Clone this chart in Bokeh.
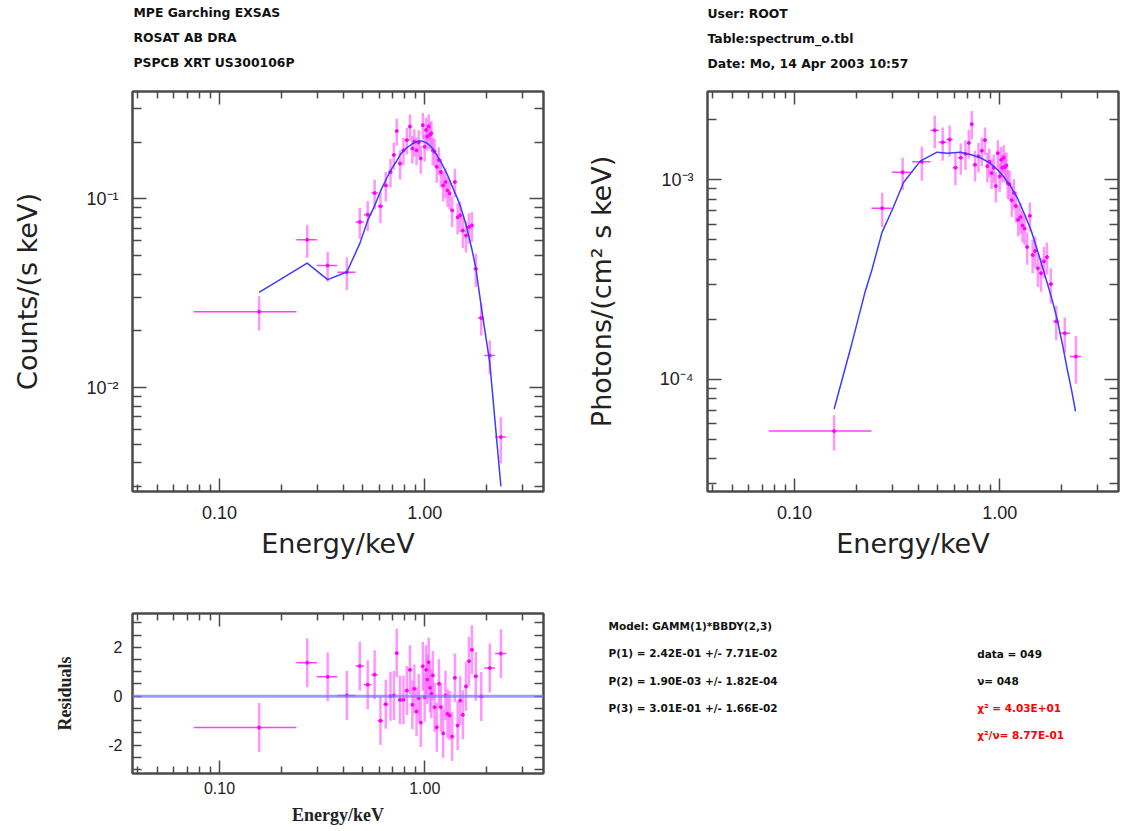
import numpy as np
from bokeh.plotting import figure
from bokeh.models import LogAxis, LinearAxis, FixedTicker, Label, Range1d, ColumnDataSource, Span
from bokeh.layouts import row, column
from bokeh.embed import file_html
from bokeh.resources import INLINE

# ---------------- data ----------------
bin_edges = [0.075, 0.237, 0.298, 0.375, 0.46, 0.505, 0.55, 0.59, 0.627, 0.665,
             0.697, 0.718, 0.743, 0.773, 0.803, 0.834, 0.861, 0.88, 0.9, 0.925,
             0.946, 0.968, 0.99, 1.008, 1.022, 1.038, 1.053, 1.069, 1.086, 1.104,
             1.13, 1.16, 1.186, 1.212, 1.247, 1.277, 1.305, 1.34, 1.38, 1.425,
             1.468, 1.508, 1.56, 1.618, 1.668, 1.728, 1.82, 1.95, 2.2, 2.5]

counts = [0.0253, 0.0608, 0.0444, 0.0409, 0.0755, 0.0826, 0.1076, 0.0915, 0.118, 0.139,
          0.171, 0.229, 0.154, 0.181, 0.205, 0.242, 0.185, 0.201, 0.181, 0.199,
          0.164, 0.246, 0.189, 0.232, 0.214, 0.242, 0.219, 0.223, 0.181, 0.178,
          0.148, 0.161, 0.139, 0.118, 0.123, 0.111, 0.107, 0.087, 0.123, 0.080,
          0.0819, 0.068, 0.064, 0.071, 0.0724, 0.0427, 0.0234, 0.0148, 0.00548]

counts_err = [0.0052, 0.012, 0.008, 0.008, 0.014, 0.015, 0.019, 0.017, 0.021, 0.024,
              0.028, 0.037, 0.027, 0.030, 0.033, 0.038, 0.031, 0.033, 0.030, 0.032,
              0.028, 0.039, 0.031, 0.037, 0.034, 0.038, 0.035, 0.035, 0.030, 0.030,
              0.026, 0.027, 0.024, 0.021, 0.022, 0.020, 0.019, 0.016, 0.021, 0.015,
              0.015, 0.013, 0.012, 0.013, 0.013, 0.0085, 0.0045, 0.0030, 0.0015]

counts_model = [0.032, 0.0457, 0.0374, 0.0410, 0.058, 0.077, 0.092, 0.110, 0.126, 0.141,
                0.151, 0.159, 0.171, 0.180, 0.187, 0.192, 0.196, 0.199, 0.201, 0.203,
                0.203, 0.202, 0.200, 0.199, 0.197, 0.194, 0.191, 0.188, 0.184, 0.178,
                0.171, 0.163, 0.157, 0.149, 0.141, 0.134, 0.126, 0.117, 0.108, 0.100,
                0.092, 0.083, 0.073, 0.063, 0.054, 0.043, 0.027, 0.0135, 0.0030]

photons = [5.5e-5, 7.2e-4, 1.09e-3, 1.23e-3, 1.77e-3, 1.54e-3, 1.59e-3, 1.15e-3, 1.29e-3, 1.35e-3,
           1.53e-3, 1.90e-3, 1.19e-3, 1.31e-3, 1.40e-3, 1.58e-3, 1.17e-3, 1.23e-3, 1.08e-3, 1.15e-3,
           9.3e-4, 1.36e-3, 1.04e-3, 1.26e-3, 1.15e-3, 1.29e-3, 1.16e-3, 1.18e-3, 9.6e-4, 9.5e-4,
           7.9e-4, 8.6e-4, 7.4e-4, 6.3e-4, 6.5e-4, 5.9e-4, 5.7e-4, 4.6e-4, 6.6e-4, 4.2e-4,
           4.4e-4, 3.6e-4, 3.4e-4, 3.9e-4, 4.1e-4, 3.0e-4, 1.95e-4, 1.7e-4, 1.3e-4]

photons_err = [1.1e-5, 1.4e-4, 2.0e-4, 2.4e-4, 3.3e-4, 2.9e-4, 2.8e-4, 2.1e-4, 2.3e-4, 2.3e-4,
               2.5e-4, 3.1e-4, 2.1e-4, 2.2e-4, 2.3e-4, 2.5e-4, 2.0e-4, 2.0e-4, 1.8e-4, 1.9e-4,
               1.6e-4, 2.2e-4, 1.7e-4, 2.0e-4, 1.8e-4, 2.0e-4, 1.9e-4, 1.9e-4, 1.6e-4, 1.6e-4,
               1.4e-4, 1.45e-4, 1.3e-4, 1.1e-4, 1.15e-4, 1.05e-4, 1.0e-4, 8.5e-5, 1.1e-4, 8.0e-5,
               8.0e-5, 7.0e-5, 6.5e-5, 7.0e-5, 7.5e-5, 6.0e-5, 3.8e-5, 3.4e-5, 3.5e-5]

photon_model_energy = [0.156, 0.19, 0.221, 0.239, 0.267, 0.30, 0.34, 0.41, 0.495, 0.554,
                       0.643, 0.72, 0.805, 0.89, 0.971, 1.05, 1.128, 1.22, 1.31, 1.42,
                       1.52, 1.61, 1.70, 1.80, 1.905, 2.02, 2.13, 2.24, 2.34]
photon_model = [7.1e-5, 1.5e-4, 2.75e-4, 3.57e-4, 5.45e-4, 7.1e-4, 9.7e-4, 1.24e-3, 1.375e-3, 1.36e-3,
                1.375e-3, 1.34e-3, 1.29e-3, 1.22e-3, 1.13e-3, 1.03e-3, 9.3e-4, 8.1e-4, 6.86e-4, 5.6e-4,
                4.49e-4, 3.7e-4, 3.06e-4, 2.5e-4, 2.0e-4, 1.5e-4, 1.13e-4, 8.8e-5, 6.9e-5]

residuals = [-1.28, 1.37, 0.79, 0.03, 1.23, 0.47, 0.88, -1.0, -0.33, 0.0,
             0.03, 1.76, -0.15, -0.15, 0.23, 1.08, -0.35, 0.3, -0.63, -0.08,
             -1.08, 1.22, -0.04, 1.08, 0.68, 1.39, 0.34, 0.1, 0.85, -0.45,
             -1.27, 0.51, -0.45, -1.52, 0.03, -0.72, -0.79, -1.65, 0.75, -1.2,
             -0.18, -0.76, 0.4, 1.43, 1.9, 0.81, -0.01, 1.15, 1.74]
residuals_err = [1.0] * len(residuals)

x_tick_labels = {0.1: "0.10", 1.0: "1.00"}
counts_tick_labels = {0.01: "10\u207b\u00b2", 0.1: "10\u207b\u00b9"}
photon_tick_labels = {1e-4: "10\u207b\u2074", 1e-3: "10\u207b\u00b3"}
resid_tick_labels = {-2: "-2", 0: "0", 2: "2"}

header_left = ["MPE Garching EXSAS", "ROSAT AB DRA", "PSPCB XRT US300106P"]
header_right = ["User: ROOT", "Table:spectrum_o.tbl", "Date: Mo, 14 Apr 2003 10:57"]
fit_lines = ["Model: GAMM(1)*BBDY(2,3)",
             "P(1) = 2.42E-01 +/- 7.71E-02",
             "P(2) = 1.90E-03 +/- 1.82E-04",
             "P(3) = 3.01E-01 +/- 1.66E-02"]
stat_lines = ["data = 049", "\u03bd= 048", "\u03c7\u00b2 = 4.03E+01", "\u03c7\u00b2/\u03bd= 8.77E-01"]
stat_colors = ["#111111", "#111111", "#ff0000", "#ff0000"]

# ---------------- derived ----------------
e_lo = np.array(bin_edges[:-1])
e_hi = np.array(bin_edges[1:])
energy = (e_lo + e_hi) / 2.0

X_RANGE = (0.0377, 3.79)
MAG = "#ff00ff"
PINK = "#ff5cff"
BLUE = "#3c3cff"
AXC = "#4a4a4a"
TICK_FONT = "Liberation Sans"
HDR_FONT = "DejaVu Sans"

x_major = [0.1, 1.0]
x_minor = [0.04, 0.05, 0.06, 0.07, 0.08, 0.09, 0.2, 0.3, 0.4, 0.5, 0.6, 0.7, 0.8, 0.9, 2.0, 3.0]


def style_axis(ax, ticks, minor, labels, maj_in, min_in, size="18px"):
    ax.ticker = FixedTicker(ticks=ticks, minor_ticks=minor)
    ax.major_label_overrides = labels
    ax.major_tick_in = maj_in
    ax.major_tick_out = 0
    ax.minor_tick_in = min_in
    ax.minor_tick_out = 0
    ax.major_tick_line_color = AXC
    ax.minor_tick_line_color = AXC
    ax.major_tick_line_width = 1.5
    ax.minor_tick_line_width = 1.5
    ax.axis_line_color = AXC
    ax.axis_line_width = 2
    ax.major_label_text_font = TICK_FONT
    ax.major_label_text_font_size = size
    ax.major_label_text_color = "#222222"


def style_label(ax, text, font, size, style, standoff):
    ax.axis_label = text
    ax.axis_label_text_font = font
    ax.axis_label_text_font_size = size
    ax.axis_label_text_font_style = style
    ax.axis_label_text_color = "#222222"
    ax.axis_label_standoff = standoff


def mirror(p, where, kind, ticks, minor, maj_in, min_in):
    ax = kind()
    style_axis(ax, ticks, minor, {t: "" for t in ticks}, maj_in, min_in)
    ax.major_label_standoff = 0
    p.add_layout(ax, where)


def base_fig(w, h, yr, ytype, left, right, top, bottom):
    p = figure(width=w, height=h, x_axis_type="log", y_axis_type=ytype,
               x_range=Range1d(*X_RANGE), y_range=Range1d(*yr),
               output_backend="svg", toolbar_location=None,
               min_border_left=left, min_border_right=right,
               min_border_top=top, min_border_bottom=bottom)
    p.grid.visible = False
    p.outline_line_color = AXC
    p.outline_line_width = 2
    p.background_fill_color = "white"
    p.border_fill_color = "white"
    return p


def text_fig(w, h):
    p = figure(width=w, height=h, x_range=Range1d(0, w), y_range=Range1d(h, 0),
               output_backend="svg", toolbar_location=None,
               x_axis_location=None, y_axis_location=None,
               min_border_left=0, min_border_right=0, min_border_top=0, min_border_bottom=0)
    p.frame_align = False
    p.grid.visible = False
    p.outline_line_color = None
    p.background_fill_color = "white"
    p.border_fill_color = "white"
    return p


def draw_data(p, y, yerr):
    y = np.array(y)
    yerr = np.array(yerr)
    src = ColumnDataSource(dict(x=energy, lo=e_lo, hi=e_hi, y=y, y0=y - yerr, y1=y + yerr))
    p.segment(x0="x", y0="y0", x1="x", y1="y1", source=src, line_color=PINK, line_width=2.5, line_alpha=0.65)
    p.segment(x0="lo", y0="y", x1="hi", y1="y", source=src, line_color=MAG, line_width=1.5, line_alpha=0.75)
    p.scatter(x="x", y="y", source=src, size=3, color=MAG)


# ---------------- headers ----------------
hL = text_fig(562, 80)
for i, t in enumerate(header_left):
    hL.add_layout(Label(x=133, y=12 + 25 * i, text=t, text_font=HDR_FONT, text_font_size="12.4px",
                        text_font_style="bold", text_baseline="middle", text_color="#111111"))
hR = text_fig(563, 80)
for i, t in enumerate(header_right):
    hR.add_layout(Label(x=145, y=12.5 + 25 * i, text=t, text_font=HDR_FONT, text_font_size="12.4px",
                        text_font_style="bold", text_baseline="middle", text_color="#111111"))

# ---------------- top-left: counts ----------------
pA = base_fig(562, 500, (0.00282, 0.371), "log", 132, 19, 11, 89)
draw_data(pA, counts, counts_err)
pA.line(energy, counts_model, line_color=BLUE, line_width=1.5)
axA_x = pA.xaxis[0]
axA_y = pA.yaxis[0]
style_axis(axA_x, x_major, x_minor, x_tick_labels, 13, 7)
axA_x.major_label_standoff = 14
style_label(axA_x, "Energy/keV", "DejaVu Sans", "27px", "normal", 6)
y_minor_c = [0.003, 0.004, 0.005, 0.006, 0.007, 0.008, 0.009,
             0.02, 0.03, 0.04, 0.05, 0.06, 0.07, 0.08, 0.09, 0.2, 0.3]
style_axis(axA_y, [0.01, 0.1], y_minor_c, counts_tick_labels, 14, 9)
axA_y.major_label_standoff = 14
style_label(axA_y, "Counts/(s keV)", "DejaVu Sans", "27px", "normal", 40)
mirror(pA, "above", LogAxis, x_major, x_minor, 13, 7)
mirror(pA, "right", LogAxis, [0.01, 0.1], y_minor_c, 14, 9)

# ---------------- top-right: photons ----------------
pC = base_fig(563, 500, (2.74e-5, 2.77e-3), "log", 145, 7, 11, 89)
draw_data(pC, photons, photons_err)
pC.line(photon_model_energy, photon_model, line_color=BLUE, line_width=1.5)
axC_x = pC.xaxis[0]
axC_y = pC.yaxis[0]
style_axis(axC_x, x_major, x_minor, x_tick_labels, 13, 7)
axC_x.major_label_standoff = 14
style_label(axC_x, "Energy/keV", "DejaVu Sans", "27px", "normal", 6)
y_minor_p = [3e-5, 4e-5, 5e-5, 6e-5, 7e-5, 8e-5, 9e-5,
             2e-4, 3e-4, 4e-4, 5e-4, 6e-4, 7e-4, 8e-4, 9e-4, 2e-3]
style_axis(axC_y, [1e-4, 1e-3], y_minor_p, photon_tick_labels, 14, 9)
axC_y.major_label_standoff = 14
style_label(axC_y, "Photons/(cm\u00b2 s keV)", "DejaVu Sans", "27px", "normal", 40)
mirror(pC, "above", LogAxis, x_major, x_minor, 13, 7)
mirror(pC, "right", LogAxis, [1e-4, 1e-3], y_minor_p, 14, 9)

# ---------------- bottom-left: residuals ----------------
pB = base_fig(562, 251, (-3.16, 3.38), "linear", 132, 19, 33, 58)
pB.add_layout(Span(location=0, dimension="width", line_color="#7a7aff", line_width=3, line_alpha=0.75))
draw_data(pB, residuals, residuals_err)
axB_x = pB.xaxis[0]
axB_y = pB.yaxis[0]
style_axis(axB_x, x_major, x_minor, x_tick_labels, 13, 7, "16px")
axB_x.major_label_standoff = 8
style_label(axB_x, "Energy/keV", "Liberation Serif", "18px", "bold", 8)
r_minor = [-3.0, -2.5, -1.5, -1.0, -0.5, 0.5, 1.0, 1.5, 2.5, 3.0]
style_axis(axB_y, [-2, 0, 2], r_minor, resid_tick_labels, 9, 9, "16px")
axB_y.major_label_standoff = 10
style_label(axB_y, "Residuals", "Liberation Serif", "18px", "bold", 30)
mirror(pB, "above", LogAxis, x_major, x_minor, 13, 7)
mirror(pB, "right", LinearAxis, [-2, 0, 2], r_minor, 9, 9)

# ---------------- bottom-right: fit results ----------------
pD = text_fig(563, 251)
for i, t in enumerate(fit_lines):
    pD.add_layout(Label(x=46, y=45.7 + 27.2 * i, text=t, text_font=HDR_FONT,
                        text_font_size="10.5px", text_font_style="bold",
                        text_baseline="middle", text_color="#111111"))
for i, (t, c) in enumerate(zip(stat_lines, stat_colors)):
    pD.add_layout(Label(x=414.7, y=73.3 + 27 * i, text=t, text_font=HDR_FONT,
                        text_font_size="10.5px", text_font_style="bold",
                        text_baseline="middle", text_color=c))

layout = row(column(hL, pA, pB), column(hR, pC, pD))
open("out.html", "w").write(file_html(layout, INLINE))
